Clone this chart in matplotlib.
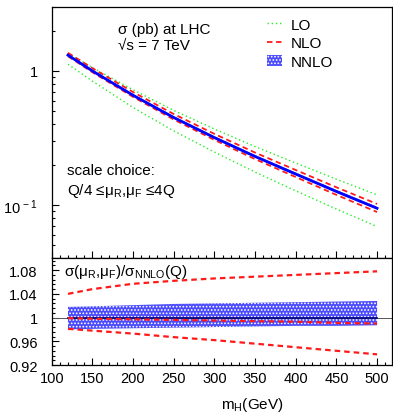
import numpy as np
import matplotlib
matplotlib.use("Agg")
import matplotlib.pyplot as plt
from matplotlib.ticker import FixedLocator, MultipleLocator, LogLocator, NullFormatter
from matplotlib.patches import Patch
from matplotlib.lines import Line2D

plt.rcParams['font.family'] = ['Liberation Sans', 'DejaVu Sans']
plt.rcParams['mathtext.fontset'] = 'custom'
plt.rcParams['mathtext.rm'] = 'Liberation Sans'
plt.rcParams['mathtext.it'] = 'Liberation Sans:italic'
plt.rcParams['hatch.linewidth'] = 0.8

# Higgs mass points (GeV)
mass = np.array([120, 150, 200, 250, 300, 350, 400, 450, 500])
# NNLO central cross section (pb)
sigma_nnlo = np.array([1.312, 1.000, 0.658, 0.449, 0.318, 0.230, 0.170, 0.126, 0.0944])

# scale variation envelopes, as ratios to NNLO central
lo_up = np.array([1.03, 1.06, 1.10, 1.13, 1.16, 1.185, 1.21, 1.235, 1.26])
lo_dn = np.array([0.855, 0.84, 0.81, 0.795, 0.78, 0.765, 0.75, 0.74, 0.73])
nlo_up = np.array([1.040, 1.048, 1.057, 1.062, 1.066, 1.069, 1.072, 1.075, 1.078])
nlo_cen = np.array([0.999, 0.998, 0.997, 0.996, 0.995, 0.994, 0.993, 0.991, 0.990])
nlo_dn = np.array([0.981, 0.978, 0.973, 0.967, 0.962, 0.956, 0.950, 0.944, 0.938])
nnlo_up = np.array([1.018, 1.019, 1.021, 1.023, 1.024, 1.025, 1.026, 1.027, 1.028])
nnlo_dn = np.array([0.980, 0.981, 0.982, 0.983, 0.984, 0.985, 0.986, 0.986, 0.987])

green = '#22ee22'
red = '#ff1a1a'
band = '#4a4aff'
fs = 11

fig = plt.figure(figsize=(3.93, 4.14), dpi=100)
ax1 = fig.add_axes([0.1316, 0.3737, 0.8651, 0.6070])
ax2 = fig.add_axes([0.1316, 0.1159, 0.8651, 0.2578])

# ---- top panel: cross section ----
ax1.plot(mass, sigma_nnlo * lo_up, color=green, lw=1.0, ls=(0, (1, 2)))
ax1.plot(mass, sigma_nnlo * lo_dn, color=green, lw=1.0, ls=(0, (1, 2)))
ax1.fill_between(mass, sigma_nnlo * nnlo_dn, sigma_nnlo * nnlo_up,
                 facecolor=band, edgecolor='white', hatch='.....', lw=0)
ax1.plot(mass, sigma_nnlo * nlo_up, color=red, lw=1.3, ls=(0, (3, 2)))
ax1.plot(mass, sigma_nnlo * nlo_dn, color=red, lw=1.3, ls=(0, (3, 2)))
ax1.plot(mass, sigma_nnlo, color='#0000ff', lw=2.0)

ax1.set_yscale('log')
ax1.set_xlim(100, 518)
ax1.set_ylim(0.04, 3.0)
ax1.yaxis.set_major_locator(FixedLocator([0.1, 1.0]))
ax1.set_yticklabels([r'$10^{\,-1}$', '1'])
ax1.yaxis.set_minor_locator(LogLocator(base=10, subs=np.arange(2, 10)))
ax1.yaxis.set_minor_formatter(NullFormatter())
ax1.xaxis.set_major_locator(MultipleLocator(50))
ax1.xaxis.set_minor_locator(MultipleLocator(10))
ax1.tick_params(axis='x', labelbottom=False)

ax1.text(0.195, 0.913, 'σ (pb) at LHC', transform=ax1.transAxes, fontsize=fs, va='center')
ax1.text(0.195, 0.850, '√s = 7 TeV', transform=ax1.transAxes, fontsize=fs, va='center')
ax1.text(0.045, 0.352, 'scale choice:', transform=ax1.transAxes, fontsize=fs, va='center')
ax1.text(0.045, 0.272, r'Q/4 ≤μ$_\mathrm{R}$,μ$_\mathrm{F}$ ≤4Q', transform=ax1.transAxes,
         fontsize=fs, va='center')

handles = [Line2D([], [], color=green, lw=1.0, ls=(0, (1, 2))),
           Line2D([], [], color=red, lw=1.3, ls=(0, (3, 2))),
           Patch(facecolor=band, edgecolor='white', hatch='.....', lw=0)]
ax1.legend(handles, ['LO', 'NLO', 'NNLO'], loc='upper left', bbox_to_anchor=(0.633, 0.957),
           frameon=False, fontsize=fs, handlelength=1.0, handletextpad=0.55,
           labelspacing=0.3, borderaxespad=0, borderpad=0)

# ---- bottom panel: ratio to NNLO(Q) ----
ax2.axhline(1.0, color='#555555', lw=0.7)
ax2.fill_between(mass, nnlo_dn, nnlo_up, facecolor=band, edgecolor='white', hatch='.....', lw=0)
ax2.plot(mass, np.ones_like(mass, dtype=float), color='#000080', lw=1.2)
ax2.plot(mass, nlo_up, color=red, lw=1.6, ls=(0, (2.5, 1.8)))
ax2.plot(mass, nlo_cen, color=red, lw=1.6, ls=(0, (2.5, 1.8)))
ax2.plot(mass, nlo_dn, color=red, lw=1.6, ls=(0, (2.5, 1.8)))

ax2.set_xlim(100, 518)
ax2.set_ylim(0.92, 1.10)
ax2.yaxis.set_major_locator(FixedLocator([0.92, 0.96, 1.0, 1.04, 1.08]))
ax2.set_yticklabels(['0.92', '0.96', '1', '1.04', '1.08'])
ax2.yaxis.set_minor_locator(MultipleLocator(0.008))
ax2.xaxis.set_major_locator(MultipleLocator(50))
ax2.xaxis.set_minor_locator(MultipleLocator(10))
ax2.text(0.036, 0.88, r'σ(μ$_\mathrm{R}$,μ$_\mathrm{F}$)/σ$_\mathrm{NNLO}$(Q)',
         transform=ax2.transAxes, fontsize=fs, va='center')

for ax in (ax1, ax2):
    ax.tick_params(which='both', direction='in', top=False, right=False, labelsize=10.5)
    ax.tick_params(which='major', length=5, width=0.8)
    ax.tick_params(which='minor', length=2.5, width=0.8)
    ax.tick_params(axis='y', pad=10)
    ax.tick_params(axis='x', pad=4)
    for s in ax.spines.values():
        s.set_linewidth(0.9)

fig.text(252 / 393, 1 - 405 / 414, r'm$_\mathrm{H}$(GeV)', fontsize=fs, ha='center', va='center')

fig.savefig('out.png', dpi=100)
